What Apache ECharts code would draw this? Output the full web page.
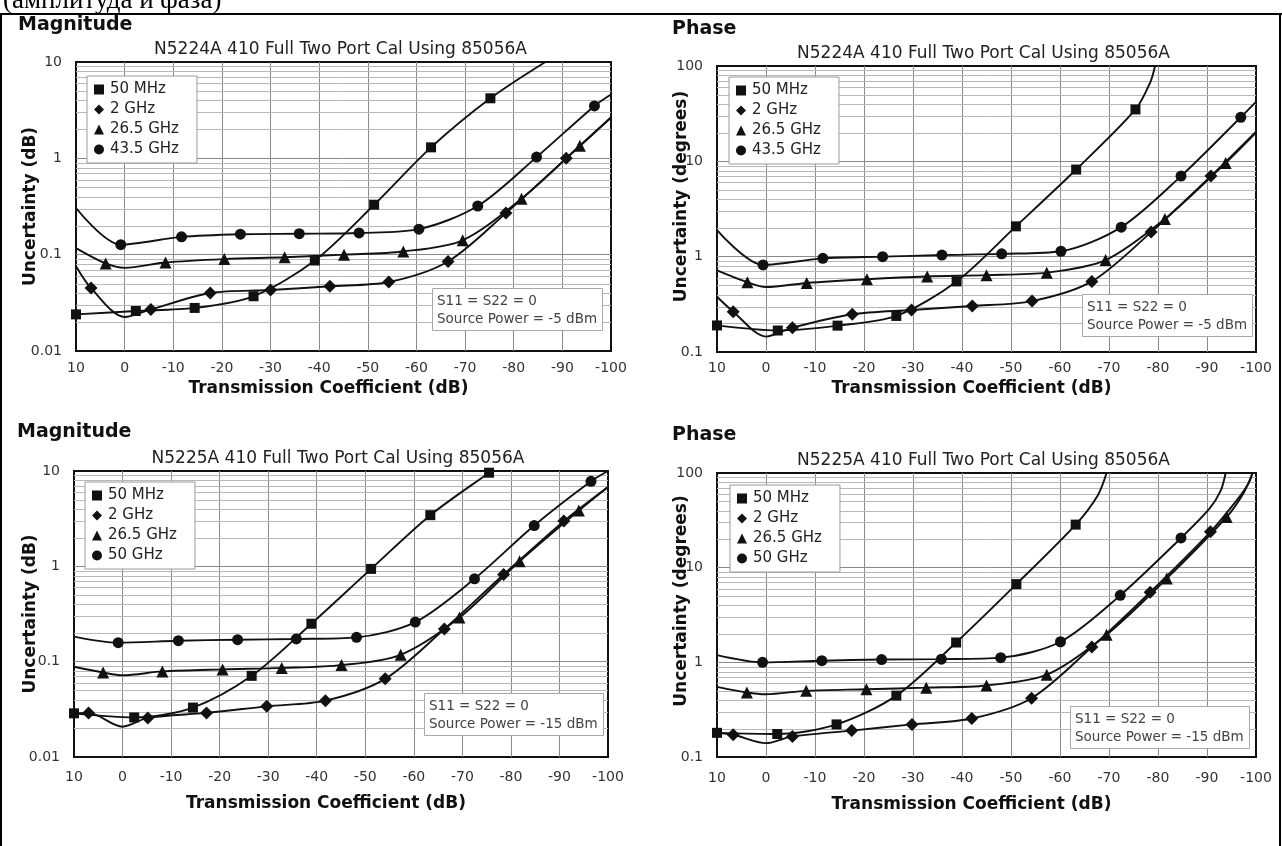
<!DOCTYPE html>
<html>
<head>
<meta charset="utf-8">
<title>Transmission uncertainty</title>
<script src="https://cdn.jsdelivr.net/npm/echarts/dist/echarts.min.js"></script>
<style>
  html, body { margin: 0; padding: 0; background: #fff; }
  #chart { width: 1282px; height: 846px; }
</style>
</head>
<body>
<div id="chart"></div>
<script>
// ---------- axis values ----------
const xMin = -100, xMax = 10, xStep = 10;          // transmission coefficient, dB
const magRange = [0.01, 10];                       // magnitude uncertainty, dB
const phaseRange = [0.1, 100];                     // phase uncertainty, degrees
const minorMultiples = [2, 3, 4, 5, 6, 7, 8, 9];   // log grid lines inside each decade

// ---------- legend entries ----------
const namesN5224A = ['50 MHz', '2 GHz', '26.5 GHz', '43.5 GHz'];
const namesN5225A = ['50 MHz', '2 GHz', '26.5 GHz', '50 GHz'];

// ---------- N5224A, magnitude (dB) : [transmission dB, uncertainty] ----------
// first array of each pair: marked readings; second: unmarked points on the same curve
const magA_50MHz = [[10,0.024],[-2.3,0.026],[-14.4,0.028],[-26.5,0.037],[-39.1,0.087],[-51.3,0.33],[-63,1.3],[-75.2,4.2]];
const magA_50MHz_ext = [[-86.5,10]];
const magA_2GHz = [[6.9,0.045],[-5.4,0.027],[-17.6,0.04],[-30,0.043],[-42.2,0.047],[-54.3,0.052],[-66.5,0.085],[-78.4,0.27],[-90.8,1.0]];
const magA_2GHz_ext = [[10,0.076],[0,0.0225],[-100,2.65]];
const magA_26GHz = [[3.9,0.081],[-8.4,0.083],[-20.5,0.09],[-32.9,0.094],[-45.1,0.1],[-57.3,0.108],[-69.5,0.141],[-81.6,0.38],[-93.6,1.35]];
const magA_26GHz_ext = [[10,0.117],[0,0.073],[-100,2.65]];
const magA_43GHz = [[0.8,0.127],[-11.7,0.153],[-23.8,0.163],[-35.9,0.165],[-48.2,0.168],[-60.5,0.184],[-72.6,0.32],[-84.7,1.03],[-96.6,3.5]];
const magA_43GHz_ext = [[10,0.305],[-100,4.6]];

// ---------- N5224A, phase (degrees) ----------
const phA_50MHz = [[10,0.19],[-2.4,0.168],[-14.6,0.189],[-26.6,0.239],[-38.9,0.55],[-51,2.08],[-63.3,8.2],[-75.4,35]];
const phA_50MHz_ext = [[-78.4,67],[-79.4,100]];
const phA_2GHz = [[6.7,0.265],[-5.4,0.18],[-17.6,0.249],[-29.7,0.276],[-42.1,0.304],[-54.3,0.342],[-66.5,0.55],[-78.6,1.81],[-90.8,7.0]];
const phA_2GHz_ext = [[10,0.38],[0,0.145],[-100,20.5]];
const phA_26GHz = [[3.8,0.54],[-8.3,0.53],[-20.6,0.58],[-32.9,0.62],[-45,0.64],[-57.3,0.68],[-69.3,0.92],[-81.4,2.49],[-93.8,9.6]];
const phA_26GHz_ext = [[10,0.72],[0,0.48],[-100,20]];
const phA_43GHz = [[0.6,0.82],[-11.6,0.96],[-23.8,1.0],[-35.9,1.04],[-48.1,1.07],[-60.2,1.14],[-72.5,2.04],[-84.7,7.0],[-96.9,29]];
const phA_43GHz_ext = [[10,1.9],[-100,42]];

// ---------- N5225A, magnitude (dB) ----------
const magB_50MHz = [[10,0.0287],[-2.4,0.026],[-14.5,0.033],[-26.6,0.071],[-38.9,0.25],[-51.2,0.94],[-63.4,3.44],[-75.5,9.6]];
const magB_50MHz_ext = [[-76,10]];
const magB_2GHz = [[7,0.029],[-5.2,0.0257],[-17.3,0.029],[-29.7,0.034],[-41.8,0.039],[-54.1,0.066],[-66.3,0.22],[-78.5,0.82],[-90.9,2.98]];
const magB_2GHz_ext = [[10,0.0287],[0,0.0208],[-100,6.8]];
const magB_26GHz = [[4,0.077],[-8.2,0.079],[-20.6,0.083],[-32.8,0.086],[-45.1,0.092],[-57.3,0.118],[-69.4,0.29],[-81.8,1.13],[-94,3.85]];
const magB_26GHz_ext = [[10,0.0885],[0,0.072],[-100,6.8]];
const magB_50GHz = [[0.9,0.158],[-11.5,0.166],[-23.7,0.17],[-35.8,0.173],[-48.2,0.18],[-60.3,0.26],[-72.5,0.74],[-84.8,2.68],[-96.5,7.8]];
const magB_50GHz_ext = [[10,0.183],[-100,10]];

// ---------- N5225A, phase (degrees) ----------
const phB_50MHz = [[10,0.18],[-2.3,0.175],[-14.4,0.221],[-26.6,0.445],[-38.8,1.62],[-51.1,6.7],[-63.2,28.5]];
const phB_50MHz_ext = [[-67.7,58],[-69.5,100]];
const phB_2GHz = [[6.7,0.172],[-5.4,0.165],[-17.5,0.19],[-29.8,0.221],[-42,0.255],[-54.2,0.418],[-66.5,1.45],[-78.4,5.5],[-90.7,23.9]];
const phB_2GHz_ext = [[10,0.18],[0,0.14],[-96.5,55],[-98.5,78],[-99.3,100]];
const phB_26GHz = [[3.9,0.48],[-8.2,0.5],[-20.5,0.52],[-32.7,0.54],[-45,0.57],[-57.3,0.74],[-69.5,1.96],[-81.8,7.7],[-94,34.3]];
const phB_26GHz_ext = [[10,0.55],[0,0.46],[-97.5,62],[-99.3,100]];
const phB_50GHz = [[0.7,1.0],[-11.4,1.04],[-23.6,1.07],[-35.8,1.08],[-47.9,1.12],[-60.1,1.65],[-72.3,5.1],[-84.7,20.6]];
const phB_50GHz_ext = [[10,1.19],[-90.5,42],[-92.8,65],[-93.8,100]];

// ---------- panel layout ----------
const FONT = 'DejaVu Sans';
const titleA = 'N5224A 410 Full Two Port Cal Using 85056A';
const titleB = 'N5225A 410 Full Two Port Cal Using 85056A';

const panels = [
  { section: 'Magnitude', title: titleA, yName: 'Uncertainty (dB)', range: magRange, names: namesN5224A,
    curves: [[magA_50MHz, magA_50MHz_ext], [magA_2GHz, magA_2GHz_ext], [magA_26GHz, magA_26GHz_ext], [magA_43GHz, magA_43GHz_ext]],
    note: 'S11 = S22 = 0\nSource Power = -5 dBm',
    grid: { left: 76, top: 62, width: 535, height: 289 },
    sectionAt: [18, 25], legendAt: [87, 76], noteAt: [432, 288], yNameGap: 37, yNameLift: 0,
    xLabelMargin: 10, xNameGap: 29 },
  { section: 'Phase', title: titleA, yName: 'Uncertainty (degrees)', range: phaseRange, names: namesN5224A,
    curves: [[phA_50MHz, phA_50MHz_ext], [phA_2GHz, phA_2GHz_ext], [phA_26GHz, phA_26GHz_ext], [phA_43GHz, phA_43GHz_ext]],
    note: 'S11 = S22 = 0\nSource Power = -5 dBm',
    grid: { left: 717, top: 66, width: 539, height: 286 },
    sectionAt: [672, 29], legendAt: [729, 77], noteAt: [1082, 294], yNameGap: 27, yNameLift: 25,
    xLabelMargin: 9, xNameGap: 28 },
  { section: 'Magnitude', title: titleB, yName: 'Uncertainty (dB)', range: magRange, names: namesN5225A,
    curves: [[magB_50MHz, magB_50MHz_ext], [magB_2GHz, magB_2GHz_ext], [magB_26GHz, magB_26GHz_ext], [magB_50GHz, magB_50GHz_ext]],
    note: 'S11 = S22 = 0\nSource Power = -15 dBm',
    grid: { left: 74, top: 471, width: 534, height: 286 },
    sectionAt: [17, 432], legendAt: [85, 482], noteAt: [424, 693], yNameGap: 35, yNameLift: 0,
    xLabelMargin: 13, xNameGap: 38 },
  { section: 'Phase', title: titleB, yName: 'Uncertainty (degrees)', range: phaseRange, names: namesN5225A,
    curves: [[phB_50MHz, phB_50MHz_ext], [phB_2GHz, phB_2GHz_ext], [phB_26GHz, phB_26GHz_ext], [phB_50GHz, phB_50GHz_ext]],
    note: 'S11 = S22 = 0\nSource Power = -15 dBm',
    grid: { left: 717, top: 473, width: 539, height: 284 },
    sectionAt: [672, 435], legendAt: [730, 485], noteAt: [1070, 706], yNameGap: 27, yNameLift: 28,
    xLabelMargin: 14, xNameGap: 39 }
];

const shapes = ['rect', 'diamond', 'triangle', 'circle'];
const shapeSizes = [10, 13, 12, 11];
const INK = '#111';

function minorValues(range) {
  const out = [];
  for (let d = range[0]; d < range[1] * 0.999; d *= 10) {
    minorMultiples.forEach(m => out.push([xMax, +(m * d).toPrecision(3)]));
  }
  return out;
}

const grids = [], xAxes = [], yAxes = [], series = [], legends = [], titles = [];
const graphics = [];

panels.forEach((p, gi) => {
  grids.push(Object.assign({ show: true, borderColor: INK, borderWidth: 2, backgroundColor: 'transparent', containLabel: false }, p.grid));

  xAxes.push({
    type: 'value', gridIndex: gi, min: xMin, max: xMax, interval: xStep, inverse: true,
    name: 'Transmission Coefficient (dB)', nameLocation: 'middle', nameGap: p.xNameGap, nameMoveOverlap: false,
    nameTextStyle: { fontFamily: FONT, fontWeight: 'bold', fontSize: 17, color: INK, padding: [0, 30, 0, 0] },
    axisLine: { show: false }, axisTick: { show: false },
    axisLabel: { fontFamily: FONT, fontSize: 14, color: '#333', margin: p.xLabelMargin },
    splitLine: { show: true, showMinLine: false, showMaxLine: false, lineStyle: { color: '#8a8a8a', width: 1 } }
  });

  yAxes.push({
    type: 'log', logBase: 10, gridIndex: gi, min: p.range[0], max: p.range[1],
    name: p.yName, nameLocation: 'middle', nameGap: p.yNameGap, nameMoveOverlap: false,
    nameTextStyle: { fontFamily: FONT, fontWeight: 'bold', fontSize: 17, color: INK, padding: [0, 0, 0, p.yNameLift] },
    axisLine: { show: false }, axisTick: { show: false },
    axisLabel: { fontFamily: FONT, fontSize: 14, color: '#333', margin: 14,
                 formatter: v => String(+(+v).toPrecision(3)) },
    splitLine: { show: true, showMinLine: false, showMaxLine: false, lineStyle: { color: '#8a8a8a', width: 1 } }
  });

  // log-decade minor grid lines, placed through the axis scales
  series.push({
    type: 'custom', xAxisIndex: gi, yAxisIndex: gi, silent: true, z: 1,
    data: minorValues(p.range),
    renderItem: (params, api) => {
      const a = api.coord([xMax, api.value(1)]);
      const b = api.coord([xMin, api.value(1)]);
      const y = Math.round(a[1]) + 0.5;
      return { type: 'line', shape: { x1: a[0], y1: y, x2: b[0], y2: y },
               style: { stroke: '#b8b8b8', lineWidth: 1 } };
    }
  });

  p.curves.forEach(([marks, ext], si) => {
    const pts = marks.map(v => ({ value: v }))
      .concat(ext.map(v => ({ value: v, symbol: 'none' })))
      .sort((a, b) => b.value[0] - a.value[0]);
    series.push({
      type: 'line', name: p.names[si], xAxisIndex: gi, yAxisIndex: gi, data: pts,
      symbol: shapes[si], symbolSize: shapeSizes[si], showAllSymbol: true,
      smooth: 0.3, z: 3,
      lineStyle: { color: INK, width: 1.9 },
      itemStyle: { color: INK, borderWidth: 0 }
    });
  });

  legends.push({
    orient: 'vertical', left: p.legendAt[0], top: p.legendAt[1],
    data: p.names.map((n, i) => ({ name: n, icon: shapes[i] })),
    itemWidth: 10, itemHeight: 10, itemGap: 5, padding: [6, 18, 6, 7],
    backgroundColor: '#fff', borderColor: '#9a9a9a', borderWidth: 1,
    selectedMode: false,
    textStyle: { fontFamily: FONT, fontSize: 15, color: '#222', padding: [0, 0, 0, 1] }
  });

  titles.push({
    text: p.note, left: p.noteAt[0], top: p.noteAt[1],
    padding: [4, 6, 3, 5], backgroundColor: '#fff', borderColor: '#a8a8a8', borderWidth: 1,
    textStyle: { fontFamily: FONT, fontSize: 13.5, fontWeight: 'normal', color: '#444', lineHeight: 18 }
  });

  const cx = p.grid.left + p.grid.width / 2 - 3;
  graphics.push({
    type: 'text', x: cx, y: p.grid.top - 12,
    style: { text: p.title, fontFamily: FONT, fontSize: 17, fill: '#222',
             align: 'center', textAlign: 'center', verticalAlign: 'middle', textVerticalAlign: 'middle' }
  });
  graphics.push({
    type: 'text', x: p.sectionAt[0], y: p.sectionAt[1],
    style: { text: p.section, fontFamily: FONT, fontWeight: 'bold', fontSize: 19, fill: INK,
             align: 'left', textAlign: 'left', verticalAlign: 'middle', textVerticalAlign: 'middle' }
  });
});

// page caption and cell border
graphics.push({
  type: 'text', x: 3, y: 14,
  style: { text: '(амплитуда и фаза)', fontFamily: 'Liberation Serif', fontSize: 27, fill: '#000',
           align: 'left', textAlign: 'left', verticalAlign: 'bottom', textVerticalAlign: 'bottom' }
});
graphics.push({ type: 'line', shape: { x1: 0, y1: 14, x2: 1282, y2: 14 }, style: { stroke: '#000', lineWidth: 2 } });
graphics.push({ type: 'line', shape: { x1: 1, y1: 13, x2: 1, y2: 846 }, style: { stroke: '#000', lineWidth: 2 } });
graphics.push({ type: 'line', shape: { x1: 1280, y1: 13, x2: 1280, y2: 846 }, style: { stroke: '#000', lineWidth: 2 } });

const chart = echarts.init(document.getElementById('chart'), null, { renderer: 'canvas' });
chart.setOption({
  animation: false,
  backgroundColor: '#fff',
  grid: grids,
  xAxis: xAxes,
  yAxis: yAxes,
  legend: legends,
  title: titles,
  graphic: graphics,
  series: series
});
</script>
</body>
</html>
